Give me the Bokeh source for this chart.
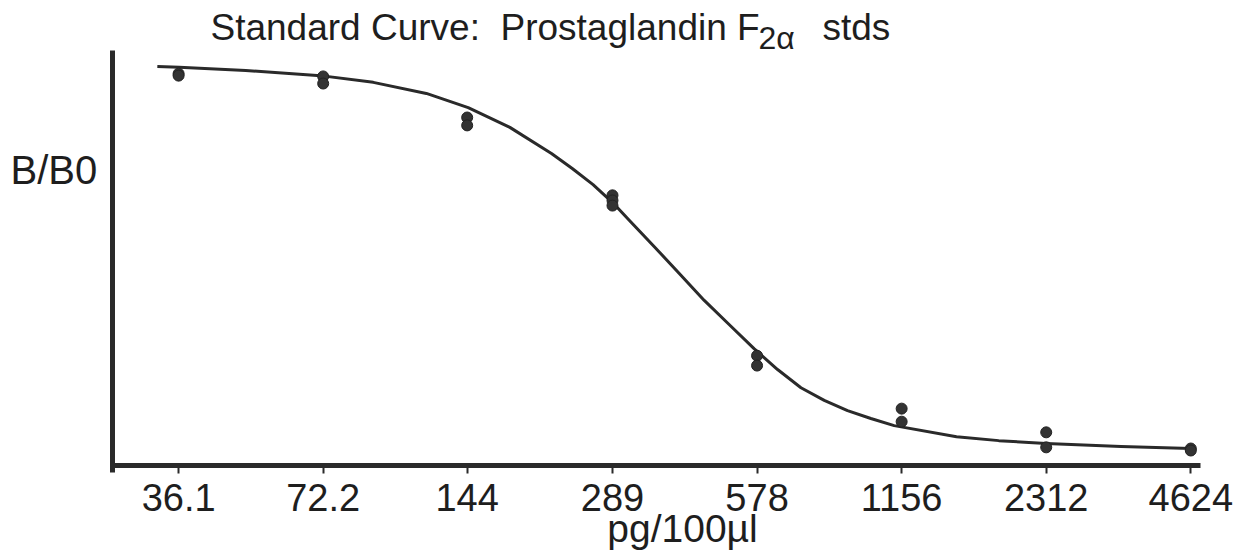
from bokeh.plotting import figure
from bokeh.models import Label, FixedTicker, Range1d
from bokeh.embed import file_html
from bokeh.resources import INLINE

# ---- data ----
tick_values = [36.1, 72.2, 144, 289, 578, 1156, 2312, 4624]
tick_labels = ["36.1", "72.2", "144", "289", "578", "1156", "2312", "4624"]

# replicate standards, B/B0 in %
std_conc = [36.1, 36.1, 72.2, 72.2, 144, 144, 289, 289, 289,
            578, 578, 1156, 1156, 2312, 2312, 4624, 4624]
std_bb0 = [99.2, 98.7, 98.5, 96.7, 88.1, 86.1, 68.4, 67.1, 65.8,
           27.8, 25.3, 14.4, 11.1, 8.4, 4.6, 4.3, 3.8]

# fitted standard curve
curve_conc = [32.6, 36.2, 49.8, 71.3, 91.8, 118.4, 144.7, 176.7, 215.7,
              238.3, 263.3, 291.8, 313.5, 353.2, 398.1, 448.7, 505.5,
              569.7, 637.7, 713.4, 797.6, 891.8, 997.4, 1115.4,
              1504, 1841, 2312, 3309, 4624]
curve_bb0 = [101.0, 100.8, 100.0, 98.7, 97.0, 94.2, 90.6, 85.6, 79.0,
             75.2, 71.1, 66.1, 62.0, 55.4, 48.6, 41.8, 35.7,
             29.6, 24.3, 19.7, 16.5, 13.9, 11.9, 10.1,
             7.3, 6.3, 5.6, 4.8, 4.3]

# axis extents (data units)
X_AXIS_SPAN = (26.3, 4845)
Y_AXIS_SPAN = (-1.8, 105)

FONT = "Liberation Sans"
INK = "#2a2a2a"
TXT = "#1e1e1e"

p = figure(width=1243, height=555, x_axis_type="log",
           x_range=Range1d(15.37, 5953), y_range=Range1d(-22.78, 117.72),
           output_backend="svg", toolbar_location=None,
           min_border_left=0, min_border_right=0,
           min_border_top=0, min_border_bottom=0)
p.outline_line_color = None
p.xgrid.visible = False
p.ygrid.visible = False
p.background_fill_color = "white"
p.border_fill_color = "white"

xa = p.xaxis[0]
xa.fixed_location = 0
xa.bounds = X_AXIS_SPAN
xa.ticker = FixedTicker(ticks=tick_values, minor_ticks=[])
xa.major_label_overrides = {v: s for v, s in zip(tick_values, tick_labels)}
xa.axis_line_width = 5
xa.axis_line_color = INK
xa.major_tick_in = 0
xa.major_tick_out = 8
xa.major_tick_line_width = 2
xa.major_tick_line_color = INK
xa.minor_tick_line_color = None
xa.major_label_text_font = FONT
xa.major_label_text_font_size = "38px"
xa.major_label_text_color = TXT
xa.major_label_standoff = 10

ya = p.yaxis[0]
ya.fixed_location = X_AXIS_SPAN[0]
ya.bounds = Y_AXIS_SPAN
ya.axis_line_width = 5
ya.axis_line_color = INK
ya.major_tick_line_color = None
ya.minor_tick_line_color = None
ya.major_label_text_font_size = "0px"
ya.major_label_text_color = None

p.line(curve_conc, curve_bb0, line_color=INK, line_width=3, line_join="round")
p.scatter(std_conc, std_bb0, size=11, fill_color="#333333", line_color="#222222", line_width=1)

def lab(text, x, y, size, **kw):
    p.add_layout(Label(text=text, x=x, y=y, x_units="screen", y_units="screen",
                       text_font=FONT, text_font_size=size, text_color=TXT,
                       text_baseline="middle", **kw))

# texts (screen units from the lower-left corner of the frame = canvas)
lab("Standard Curve:", 210, 528, "37px")
lab("Prostaglandin F", 500, 528, "37px")
lab("2\u03b1", 758, 518, "32px")
lab("stds", 822, 528, "37px")
lab("B/B0", 10, 386, "40px")
lab("pg/100\u00b5l", 682, 27, "39px", text_align="center")

open("out.html", "w").write(file_html(p, INLINE))
